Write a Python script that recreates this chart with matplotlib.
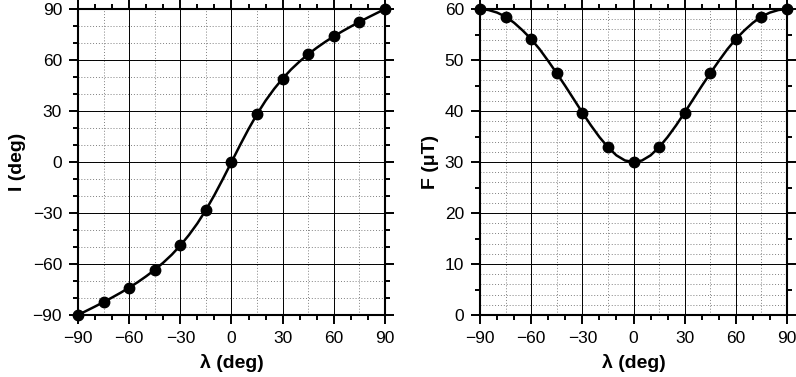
import numpy as np
import matplotlib.pyplot as plt
from matplotlib.ticker import MultipleLocator

plt.rcParams['font.family'] = ['Liberation Sans', 'DejaVu Sans']

# curve values (every 5 deg)
lat_curve = [-90, -85, -80, -75, -70, -65, -60, -55, -50, -45, -40, -35, -30, -25, -20, -15, -10, -5,
             0, 5, 10, 15, 20, 25, 30, 35, 40, 45, 50, 55, 60, 65, 70, 75, 80, 85, 90]
inc_half = [0, 9.9, 19.4, 28.2, 36.1, 43.0, 49.1, 54.5, 59.2, 63.4, 67.2, 70.7, 73.9, 76.9, 79.7, 82.4, 85.0, 87.5, 90]
inc_curve = [-v for v in inc_half[::-1]] + inc_half[1:]
f_half = [30.0, 30.3, 31.3, 32.9, 34.9, 37.2, 39.7, 42.3, 44.9, 47.4, 49.8, 52.1, 54.1, 55.8, 57.3, 58.5, 59.3, 59.8, 60.0]
f_curve = f_half[::-1] + f_half[1:]

# points every 15 deg
lat_pts = [-90, -75, -60, -45, -30, -15, 0, 15, 30, 45, 60, 75, 90]
inc_pts = [-90, -82.4, -73.9, -63.4, -49.1, -28.2, 0, 28.2, 49.1, 63.4, 73.9, 82.4, 90]
f_pts = [60, 58.5, 54.1, 47.4, 39.7, 32.9, 30, 32.9, 39.7, 47.4, 54.1, 58.5, 60]

fig = plt.figure(figsize=(7.96, 3.77), dpi=100)
ax1 = fig.add_axes([78 / 796, 62 / 377, 307 / 796, 306 / 377])
ax2 = fig.add_axes([480 / 796, 62 / 377, 307 / 796, 306 / 377])


def style(ax, ymin, ymax, ymajor, yminor, ygrid):
    ax.set_xlim(-90, 90)
    ax.set_ylim(ymin, ymax)
    ax.xaxis.set_major_locator(MultipleLocator(30))
    ax.xaxis.set_minor_locator(MultipleLocator(10))
    ax.yaxis.set_major_locator(MultipleLocator(ymajor))
    ax.yaxis.set_minor_locator(MultipleLocator(yminor))
    for x in np.arange(-90, 91, 15):
        ax.axvline(x, color='0.5', lw=0.7, ls=(0, (1, 2)), zorder=0)
    for y in np.arange(ymin, ymax + 0.01, ygrid):
        ax.axhline(y, color='0.5', lw=0.7, ls=(0, (1, 2)), zorder=0)
    ax.grid(True, which='major', color='black', lw=0.7, zorder=1)
    ax.set_axisbelow(True)
    ax.tick_params(which='both', direction='out', top=True, right=True,
                   width=1.4, labelsize=12.5, colors='black')
    ax.tick_params(which='major', length=6.5, pad=5)
    ax.tick_params(which='minor', length=3.5)
    for s in ax.spines.values():
        s.set_linewidth(1.5)


style(ax1, -90, 90, 30, 10, 10)
ax1.plot(lat_curve, inc_curve, color='black', lw=1.8, zorder=3)
ax1.plot(lat_pts, inc_pts, 'o', color='black', ms=7.5, zorder=4, clip_on=False)
ax1.set_xlabel('λ (deg)', fontsize=14, fontweight='bold', labelpad=6)
ax1.set_ylabel('I (deg)', fontsize=14, fontweight='bold', labelpad=5)

style(ax2, 0, 60, 10, 5, 2)
ax2.plot(lat_curve, f_curve, color='black', lw=1.8, zorder=3)
ax2.plot(lat_pts, f_pts, 'o', color='black', ms=7.5, zorder=4, clip_on=False)
ax2.set_xlabel('λ (deg)', fontsize=14, fontweight='bold', labelpad=6)
ax2.set_ylabel('F (μT)', fontsize=14, fontweight='bold', labelpad=4)

fig.savefig('out.png', dpi=100)
